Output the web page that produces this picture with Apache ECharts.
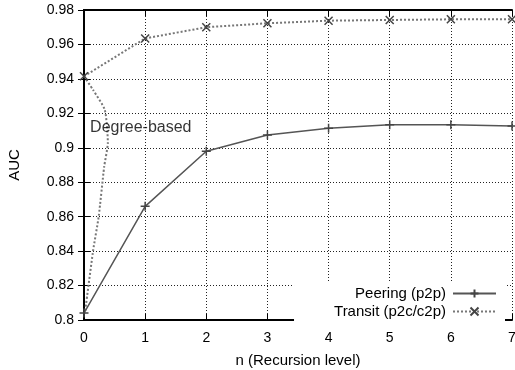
<!DOCTYPE html>
<html>
<head>
<meta charset="utf-8">
<script src="https://cdn.jsdelivr.net/npm/echarts@6/dist/echarts.min.js"></script>
<style>
  html, body { margin: 0; padding: 0; background: #fff; }
  #chart { width: 515px; height: 370px; }
</style>
</head>
<body>
<div id="chart"></div>
<script>
// recursion levels and AUC values
const levels = [0, 1, 2, 3, 4, 5, 6, 7]
const peering = [0.804, 0.866, 0.898, 0.9074, 0.9113, 0.9134, 0.9134, 0.9127]
const transit = [0.9415, 0.9635, 0.970, 0.9723, 0.9738, 0.9742, 0.9746, 0.9746]
// dotted "Degree-based" curve near n = 0
const degreeX = [0, 0.15, 0.34, 0.39, 0.33, 0.24, 0.15, 0.015]
const degreeY = [0.9415, 0.9335, 0.922, 0.903, 0.889, 0.86, 0.8405, 0.804]
const yTicks = [0.8, 0.82, 0.84, 0.86, 0.88, 0.9, 0.92, 0.94, 0.96, 0.98]

const font = 'Liberation Sans, Arial, Helvetica, sans-serif'
const lineColor = '#555'
const plusSymbol = 'path://M0,5L10,5M5,0L5,10'
const crossSymbol = 'path://M0,0L10,10M10,0L0,10'

const pairs = (xs, ys) => xs.map((x, i) => [x, ys[i]])

const chart = echarts.init(document.getElementById('chart'))

const tickSide = {
  axisLine: { show: true, lineStyle: { color: '#000', width: 2 } },
  axisTick: { show: true, inside: true, length: 6, lineStyle: { color: '#000', width: 1 } },
  axisLabel: { show: false },
  splitLine: { show: false }
}

chart.setOption({
  animation: false,
  textStyle: { fontFamily: font },
  grid: { left: 84, right: 3, top: 10, bottom: 50, outerBoundsMode: 'none' },
  legend: {
    data: ['Peering (p2p)', 'Transit (p2c/c2p)'],
    orient: 'vertical',
    align: 'right',
    right: 10,
    top: 281,
    padding: [5, 8, 3, 40],
    itemGap: 3,
    itemWidth: 43,
    itemHeight: 10,
    backgroundColor: '#fff',
    textStyle: { fontFamily: font, fontSize: 15, color: '#000', padding: [0, 2, 0, 0] }
  },
  xAxis: [{
    type: 'value',
    min: 0,
    max: 7,
    interval: 1,
    name: 'n (Recursion level)',
    nameLocation: 'middle',
    nameGap: 33,
    nameTextStyle: { fontFamily: font, fontSize: 15, color: '#000' },
    axisLine: { show: true, lineStyle: { color: '#000', width: 2 } },
    axisTick: { show: true, inside: true, length: 6, lineStyle: { color: '#000', width: 1 } },
    axisLabel: { fontFamily: font, fontSize: 14, color: '#000', margin: 11 },
    splitLine: { show: true, lineStyle: { color: '#222', width: 1, type: [1, 2] } }
  }, Object.assign({ type: 'value', position: 'top', min: 0, max: 7, interval: 1 }, tickSide)],
  yAxis: [{
    type: 'value',
    min: yTicks[0],
    max: yTicks[yTicks.length - 1],
    interval: 0.02,
    name: 'AUC',
    nameLocation: 'middle',
    nameGap: 62,
    nameTextStyle: { fontFamily: font, fontSize: 15, color: '#000' },
    axisLine: { show: true, lineStyle: { color: '#000', width: 2 } },
    axisTick: { show: true, inside: true, length: 6, lineStyle: { color: '#000', width: 1 } },
    axisLabel: {
      fontFamily: font, fontSize: 14, color: '#000', margin: 10,
      formatter: v => String(+v.toFixed(2))
    },
    splitLine: { show: true, lineStyle: { color: '#222', width: 1, type: [1, 2] } }
  }, Object.assign({
    type: 'value', position: 'right',
    min: yTicks[0], max: yTicks[yTicks.length - 1], interval: 0.02
  }, tickSide)],
  series: [
    {
      name: 'Degree-based',
      type: 'line',
      data: pairs(degreeX, degreeY),
      smooth: 0.2,
      showSymbol: false,
      lineStyle: { color: '#777', width: 2, type: [2, 2] },
      z: 3
    },
    {
      name: 'Peering (p2p)',
      type: 'line',
      data: pairs(levels, peering),
      symbol: plusSymbol,
      symbolSize: 9,
      lineStyle: { color: lineColor, width: 1.5 },
      itemStyle: { color: 'none', borderColor: '#444', borderWidth: 1.5 },
      z: 4
    },
    {
      name: 'Transit (p2c/c2p)',
      type: 'line',
      data: pairs(levels, transit),
      symbol: crossSymbol,
      symbolSize: 8,
      lineStyle: { color: '#777', width: 2, type: [2, 2] },
      itemStyle: { color: 'none', borderColor: '#444', borderWidth: 1.5 },
      z: 4
    },
    {
      name: 'label',
      type: 'scatter',
      data: [[0.1, 0.9117]],
      symbolSize: 0,
      silent: true,
      label: {
        show: true,
        position: 'right',
        distance: 0,
        formatter: 'Degree-based',
        fontFamily: font,
        fontSize: 16,
        color: '#000'
      },
      z: 5
    }
  ]
})
</script>
</body>
</html>
